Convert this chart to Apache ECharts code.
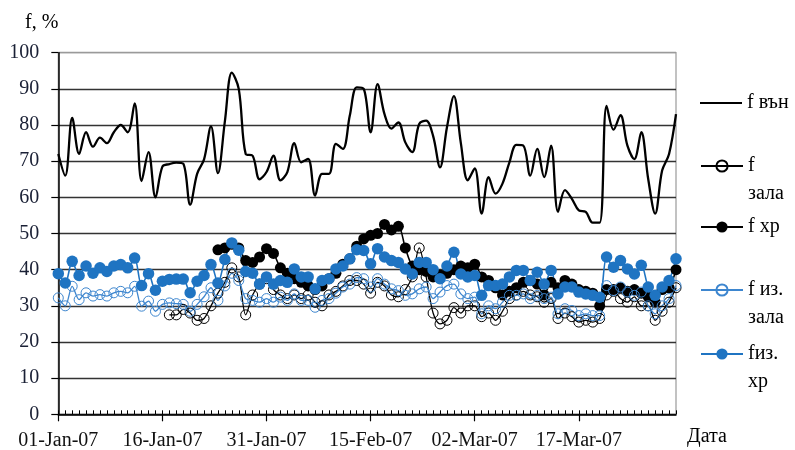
<!DOCTYPE html>
<html>
<head>
<meta charset="utf-8">
<script src="https://cdn.jsdelivr.net/npm/echarts@6/dist/echarts.min.js"></script>
<style>
html,body{margin:0;padding:0;background:#fff;}
#chart{width:795px;height:450px;}
</style>
</head>
<body>
<div id="chart"></div>
<script>
// ---- data (daily, 01-Jan-07 .. 31-Mar-07) ----
var seriesNames = ['f вън', 'f зала', 'f хр', 'f из. зала', 'fиз. хр'];
var tickLabels = ['01-Jan-07', '16-Jan-07', '31-Jan-07', '15-Feb-07', '02-Mar-07', '17-Mar-07'];
var yTicks = [0, 10, 20, 30, 40, 50, 60, 70, 80, 90, 100];

var fOut = [72, 66, 82, 72, 78, 74, 76.5, 75, 78, 80, 78, 86, 64.5, 72.5, 60, 68.5, 69.2, 69.6, 69.3, 58,
  66.5, 70.5, 79.6, 66.7, 81, 94.5, 90, 72, 71.5, 65, 67, 71.5, 64.7, 67, 75, 69.7, 70.6, 60.5, 66.5, 66.5,
  74.8, 73.4, 82.6, 90.4, 90, 78, 91.3, 83, 79, 80.7, 75.2, 72.5, 80.3, 81.2, 77, 68.3, 79.4, 88, 75, 64.7,
  68, 55.5, 65.6, 61, 63.8, 69.7, 74.5, 74.3, 66, 73.4, 65.6, 74.3, 56, 62, 59.6, 56.4, 56, 53, 53, 85.3,
  78.7, 82.7, 74.3, 70.6, 78, 65, 55.5, 67.4, 72, 83];

var fHall = [null, null, null, null, null, null, null, null, null, null, null, null, null, null, null, null,
  27.5, 27.5, 29, 28, 26, 26.5, 30, 33.5, 36.5, 40.5, 38, 27.5, 33, 36, 37.5, 34.5, 33, 32, 33, 32, 33, 31, 30, 33,
  34, 35.5, 37, 37, 36, 33.5, 36.5, 35.5, 33, 32.5, 34.5, 38, 46, 38, 28, 25, 26, 29.5, 28, 30,
  30, 27, 28, 26, 28.5, 32, 33, 34, 33, 32.5, 31, 32, 26.5, 28, 27, 25.5, 26, 25.5, 26.5, 33,
  34, 32, 31, 32.5, 30, 30, 26, 28.5, 31, 35];

var fStore = [null, null, null, null, null, null, null, null, null, null, null, null, null, null, null, null,
  null, null, null, null, null, null, null, 45.5, 46, 47, 46, 42.5, 42, 43.5, 45.8, 44.5, 40.5, 39, 37.5, 36.5, 35.5, 34.5, 35.5, 37.5,
  39, 41.5, 43, 46.5, 48.5, 49.5, 50, 52.5, 51, 52, 46, 41, 40, 39.5, 38, 38.5, 39, 40, 41, 40.5,
  41.5, 38, 37, 35, 33, 34, 35, 36.5, 37, 36, 33, 36.5, 35, 37, 36, 34.5, 34, 33.5, 30, 34.5,
  34.5, 35, 34, 34.5, 33.5, 32.5, 31, 34.5, 35, 40];

var fIsoHall = [32.2, 30, 35.4, 31.7, 33.6, 32.7, 33.1, 32.7, 33.6, 34, 33.6, 35.4, 29.9, 31.3, 28.5, 30.4, 30.8, 30.6, 30.4, 28.5,
  30.4, 32.5, 35, 31.5, 35.5, 39, 37, 32, 31.5, 31, 32, 31, 32.4, 31.5, 33.3, 31.5, 31.5, 29.6, 31.5, 32,
  33.5, 35.2, 36, 37.8, 37.5, 35.2, 37.5, 36, 34.7, 34.2, 32.9, 33.3, 34.7, 35.2, 32, 33.8, 35.6, 36, 33.3, 32,
  32.4, 27.8, 30, 29.2, 31, 32.9, 32.9, 33.3, 32, 32.9, 32, 32.4, 27.8, 29.2, 28.7, 27.3, 27.8, 27.3, 27.3, 35.6,
  34.2, 35.2, 33.8, 32.9, 33.8, 30, 27.8, 30, 32, 35.6];

var fIsoStore = [38.9, 36.3, 42.3, 38.4, 41, 39, 40.5, 39.5, 41, 41.4, 40.5, 43.2, 35.6, 38.9, 34.3, 36.8, 37.3, 37.4, 37.4, 33.6,
  36.8, 38.4, 41.4, 36.3, 42.8, 47.4, 45.4, 39.5, 39, 36, 38, 36, 37, 36.5, 40.2, 38, 38, 34.7, 37, 37.5,
  40.2, 41, 43, 45.5, 45.3, 41.6, 45.8, 43.5, 42.5, 42, 40.2, 38.8, 42, 42, 40, 37.5, 41, 44.8, 38.8, 38,
  38.4, 32.9, 35.6, 35.6, 36, 38, 39.8, 39.8, 37, 39.3, 36, 39.8, 33.3, 35.2, 35.2, 33.8, 33.3, 32.9, 32.4, 43.5,
  40.7, 42.5, 40.2, 38.8, 41.2, 35.2, 32.9, 35.2, 37, 43];

// ---- categories: one per day ----
var months = ['Jan', 'Feb', 'Mar', 'Apr', 'May', 'Jun', 'Jul', 'Aug', 'Sep', 'Oct', 'Nov', 'Dec'];
var days = [];
(function () {
  var d = new Date(Date.UTC(2007, 0, 1));
  for (var i = 0; i < fOut.length; i++) {
    var dd = d.getUTCDate();
    days.push((dd < 10 ? '0' : '') + dd + '-' + months[d.getUTCMonth()] + '-07');
    d.setUTCDate(d.getUTCDate() + 1);
  }
})();

var FONT = 'Liberation Serif';
var BLUE = '#1f74c2';
var BLUE_L = '#3d86cf';
var LINE_ICON = 'path://M0,0L0.01,0L0.01,0.01Z M0,6L42,6L42,8L0,8Z M0,14L0.01,14L0.01,13.99Z';

var chart = echarts.init(document.getElementById('chart'), null, { renderer: 'canvas' });

function legendAt(name, top, twoLine, icon) {
  var item = icon ? { name: name, icon: icon } : name;
  return {
    data: [item],
    left: 700,
    top: top,
    orient: 'vertical',
    padding: 0,
    itemWidth: 42,
    itemHeight: 14,
    selectedMode: false,
    formatter: function (n) {
      if (n === 'f зала') return ' \nf\nзала';
      if (n === 'f из. зала') return ' \nf из.\nзала';
      if (n === 'fиз. хр') return ' \nfиз.\nхр';
      return n;
    },
    textStyle: { fontFamily: FONT, fontSize: 20, color: '#000', lineHeight: twoLine ? 28 : 22 }
  };
}

var option = {
  animation: false,
  backgroundColor: '#fff',
  grid: {
    left: 58.3, right: 119, top: 52.7, bottom: 35.7,
    outerBoundsMode: 'none', containLabel: false,
    show: true, borderColor: '#9a9a9a', borderWidth: 1.2, backgroundColor: 'transparent'
  },
  legend: [
    legendAt(seriesNames[0], 92, false, LINE_ICON),
    legendAt(seriesNames[1], 124, true),
    legendAt(seriesNames[2], 216, false),
    legendAt(seriesNames[3], 248, true),
    legendAt(seriesNames[4], 312, true)
  ],
  xAxis: [{
    type: 'category',
    data: days,
    boundaryGap: false,
    axisLine: { lineStyle: { color: '#000', width: 1.5 } },
    axisTick: { show: true, interval: 14, length: 7, lineStyle: { color: '#000', width: 1.2 } },
    axisLabel: {
      interval: 14, margin: 16, fontFamily: FONT, fontSize: 20, color: '#111',
      formatter: function (v) { return tickLabels.indexOf(v) >= 0 ? v : ''; }
    },
    splitLine: { show: false },
    name: 'Дата',
    nameLocation: 'end',
    nameGap: 11,
    nameTextStyle: { fontFamily: FONT, fontSize: 20, color: '#000', align: 'left', verticalAlign: 'top', lineHeight: 44 }
  }, {
    type: 'category',
    data: days,
    boundaryGap: false,
    position: 'bottom',
    axisLine: { show: false },
    axisTick: { show: true, inside: true, interval: 0, length: 4, lineStyle: { color: '#000', width: 1 } },
    axisLabel: { show: false },
    splitLine: { show: false }
  }],
  yAxis: {
    type: 'value',
    min: yTicks[0], max: yTicks[yTicks.length - 1], interval: 10,
    axisLine: { show: true, lineStyle: { color: '#000', width: 1.5 } },
    axisTick: { show: true, length: 7, lineStyle: { color: '#000', width: 1.2 } },
    axisLabel: { margin: 19, fontFamily: FONT, fontSize: 20, color: '#1a2035' },
    splitLine: { lineStyle: { color: ['#333', '#333', '#333', '#333', '#333', '#333', '#333', '#333', '#333', '#333', '#9a9a9a'], width: 1.3 } },
    name: 'f, %',
    nameLocation: 'end',
    nameGap: 30,
    nameTextStyle: { fontFamily: FONT, fontSize: 20, color: '#000', align: 'right', verticalAlign: 'middle' }
  },
  series: [{
    name: seriesNames[0], type: 'line', data: fOut, smooth: 0.35,
    symbol: 'none', showSymbol: false,
    lineStyle: { color: '#000', width: 2.3 }, itemStyle: { color: '#000' }
  }, {
    name: seriesNames[1], type: 'line', data: fHall, smooth: 0.3,
    symbol: 'circle', symbolSize: 10, showAllSymbol: true,
    lineStyle: { color: '#000', width: 1.3 },
    itemStyle: { color: 'rgba(255,255,255,0)', borderColor: '#000', borderWidth: 1 }
  }, {
    name: seriesNames[2], type: 'line', data: fStore, smooth: 0.3,
    symbol: 'circle', symbolSize: 11, showAllSymbol: true,
    lineStyle: { color: '#000', width: 1.6 },
    itemStyle: { color: '#000' }
  }, {
    name: seriesNames[3], type: 'line', data: fIsoHall, smooth: 0.3,
    symbol: 'circle', symbolSize: 10, showAllSymbol: true,
    lineStyle: { color: BLUE_L, width: 1.3 },
    itemStyle: { color: 'rgba(255,255,255,0)', borderColor: BLUE_L, borderWidth: 1 }
  }, {
    name: seriesNames[4], type: 'line', data: fIsoStore, smooth: 0.3,
    symbol: 'circle', symbolSize: 11.5, showAllSymbol: true,
    lineStyle: { color: BLUE, width: 1.6 },
    itemStyle: { color: BLUE }
  }]
};
chart.setOption(option);
</script>
</body>
</html>
